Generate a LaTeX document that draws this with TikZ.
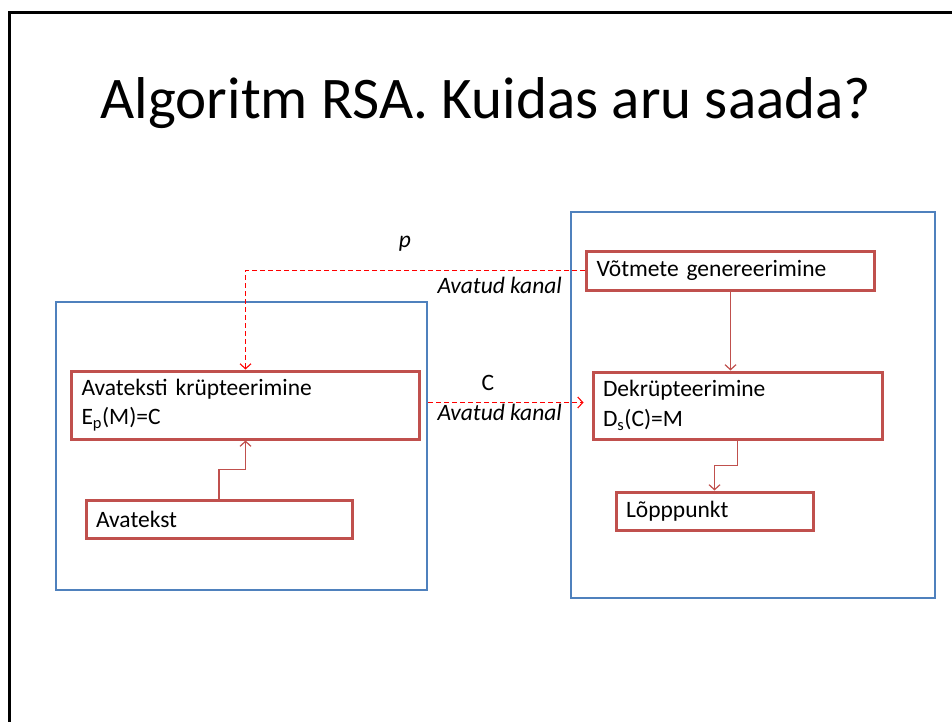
\documentclass[tikz,border=0pt]{standalone}
\usepackage{fontspec}
\setmainfont{Carlito}
\usetikzlibrary{arrows.meta}
\definecolor{boxred}{HTML}{C0504D}
\definecolor{boxblue}{HTML}{4F81BD}
\definecolor{chanred}{HTML}{FF0000}
\tikzset{
  redbox/.style={draw=boxred, line width=3pt, inner xsep=10pt, inner ysep=0pt, align=left,
    font=\fontsize{23.5}{29.5}\selectfont},
  bluebox/.style={draw=boxblue, line width=2.6pt, inner sep=0pt},
  flow/.style={draw=boxred, line width=1.2pt, ->},
  chan/.style={draw=chanred, dash pattern=on 5pt off 3pt, line width=1.1pt, ->},
  lbl/.style={font=\itshape\fontsize{23.5}{28}\selectfont, inner sep=0pt}
}
\begin{document}
\begin{tikzpicture}[x=1pt,y=-1pt,>={Straight Barb[length=5pt,width=11pt]}]
\useasboundingbox (0,0) rectangle (952,722);
\clip (0,0) rectangle (952,722);
\draw[line width=3pt] (9,740) -- (9,13) -- (970,13);
\node[inner sep=0pt, anchor=base, font=\fontsize{59}{70}\selectfont] (title) at (486,119) {Algoritm RSA. Kuidas aru saada?};
% osapooled
\node[bluebox, minimum width=371pt, minimum height=288pt] (sender) at (241.5,446) {};
\node[bluebox, minimum width=364pt, minimum height=386pt] (receiver) at (753,405) {};
% plokid
\node[redbox, minimum width=348pt, minimum height=68pt, text width=328pt] (enc) at (245.5,405) {Avateksti krüpteerimine\\E\textsubscript{p}(M)=C};
\node[redbox, minimum width=266pt, minimum height=38pt, text width=246pt] (plain) at (219,519) {Avatekst};
\node[redbox, minimum width=288pt, minimum height=39pt, text width=268pt] (keygen) at (730.5,270.5) {Võtmete genereerimine};
\node[redbox, minimum width=289pt, minimum height=67pt, text width=269pt] (dec) at (737.5,405.5) {Dekrüpteerimine\\D\textsubscript{s}(C)=M};
\node[redbox, minimum width=197pt, minimum height=38pt, text width=177pt] (final) at (714.5,511) {Lõpppunkt};
% nooled
\draw[flow] (keygen.south) -- (dec.north -| keygen.south);
\draw[flow] (dec.south) -- (737.5,465.5) -| (final.north);
\draw[flow] (plain.north) -- (219,469.5) -| (enc.south);
\draw[chan] (keygen.west) -| (enc.north);
\draw[chan, shorten >=8pt] (sender.east |- 0,402.5) -- (dec.west |- 0,402.5);
% kanalid
\node[lbl, anchor=base] (plbl) at (405,247) {p};
\node[lbl, anchor=base east] (kanal1) at (562,293) {Avatud kanal};
\node[inner sep=0pt, anchor=base, font=\fontsize{23.5}{28}\selectfont] (clbl) at (488,390) {C};
\node[lbl, anchor=base east] (kanal2) at (562,420) {Avatud kanal};
\end{tikzpicture}
\end{document}
